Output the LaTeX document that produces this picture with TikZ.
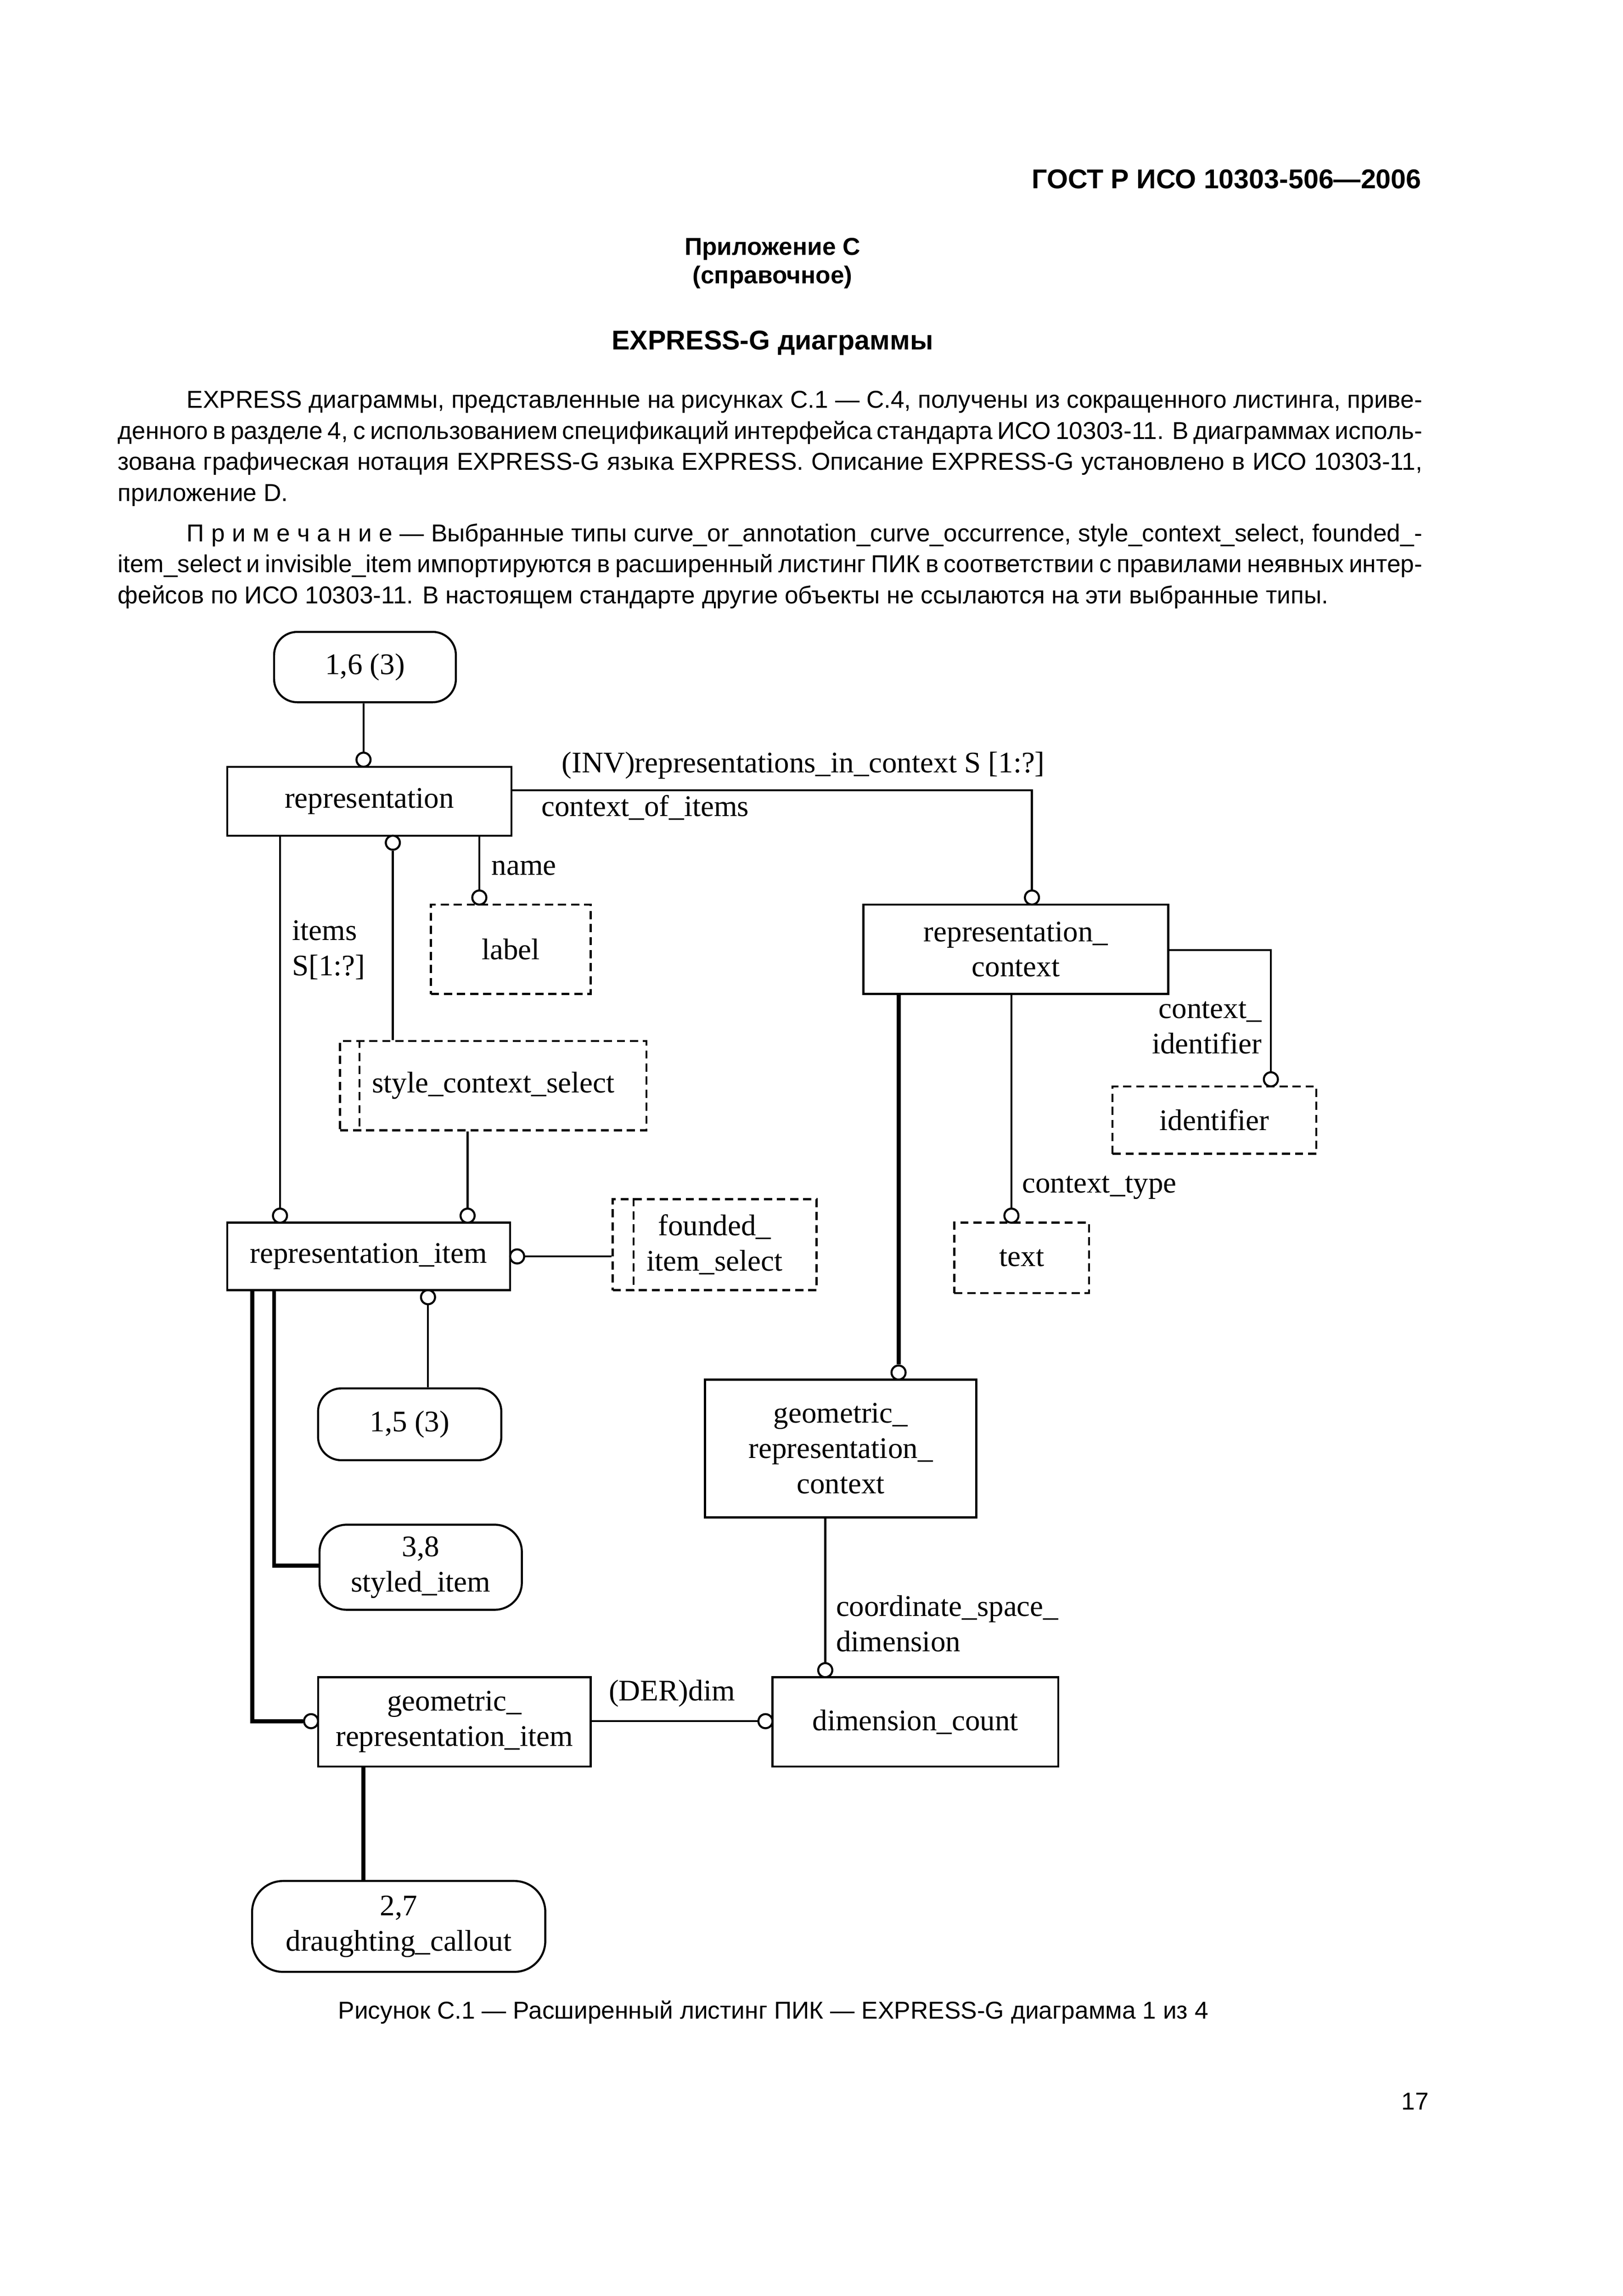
\documentclass[tikz,border=0pt]{standalone}
\usepackage{fontspec}
\setmainfont{Liberation Serif}
\newfontfamily\arial{Liberation Sans}
\newlength\UL
\setlength\UL{0.189702mm}
\newcommand\dgfont{\fontsize{11}{13}\selectfont}
\newcommand\bodyfont{\arial\fontsize{9}{11}\selectfont}
\begin{document}
\begin{tikzpicture}[x=\UL, y=-\UL,
  ent/.style={draw, line width=0.75pt, inner sep=0pt, align=center, font=\dgfont},
  entd/.style={ent, dash pattern=on 3pt off 1.8pt},
  pref/.style={ent, rounded corners=3mm},
  rc/.style={circle, draw, line width=0.75pt, inner sep=0pt, minimum size=9.6*\UL, fill=white},
  ln/.style={line width=0.75pt},
  thk/.style={line width=1.5pt},
  lab/.style={inner sep=0pt, font=\dgfont, align=left},
  body/.style={font=\bodyfont, anchor=base west, inner sep=0pt},
  hd/.style={inner sep=0pt}
]
\fill[white] (0,0) rectangle (1107,1566.1);
\useasboundingbox (0,0) rectangle (1107,1566.1);

% ---------- page text ----------
\node[hd, font=\arial\bfseries\fontsize{10}{12}\selectfont, anchor=base east] (hdr) at (970,128.6) {ГОСТ Р ИСО 10303-506—2006};
\node[hd, font=\arial\bfseries\fontsize{9}{11}\selectfont, anchor=base] (app) at (527,174) {Приложение С};
\node[hd, font=\arial\bfseries\fontsize{9}{11}\selectfont, anchor=base] (spr) at (527,193.5) {(справочное)};
\node[hd, font=\arial\bfseries\fontsize{10}{12}\selectfont, anchor=base] (ttl) at (527,238.6) {EXPRESS-G диаграммы};

\node[body] (t1) at (127,278.3) {\makebox[843\UL][s]{EXPRESS диаграммы, представленные на рисунках С.1 — С.4, получены из сокращенного листинга, приве-}};
\node[body] (t2) at (80,299.5) {\makebox[890\UL][s]{денного в разделе 4, с использованием спецификаций интерфейса стандарта ИСО 10303-11. В диаграммах исполь-}};
\node[body] (t3) at (80,320.7) {\makebox[890\UL][s]{зована графическая нотация EXPRESS-G языка EXPRESS. Описание EXPRESS-G установлено в ИСО 10303-11,}};
\node[body] (t4) at (80,341.9) {приложение D.};

\node[body] (n1) at (127,369.3) {\makebox[843\UL][s]{П\kern.29em р\kern.29em и\kern.29em м\kern.29em е\kern.29em ч\kern.29em а\kern.29em н\kern.29em и\kern.29em е — Выбранные типы curve\_or\_annotation\_curve\_occurrence, style\_context\_select, founded\_-}};
\node[body] (n2) at (80,390.5) {\makebox[890\UL][s]{item\_select и invisible\_item импортируются в расширенный листинг ПИК в соответствии с правилами неявных интер-}};
\node[body] (n3) at (80,411.7) {фейсов по ИСО 10303-11. В настоящем стандарте другие объекты не ссылаются на эти выбранные типы.};

\node[body, anchor=base] (cap) at (527.5,1377) {Рисунок С.1 — Расширенный листинг ПИК — EXPRESS-G диаграмма 1 из 4};
\node[body, anchor=base east] (pg) at (975,1439) {17};

% ---------- diagram boxes ----------
\node[pref, minimum width=124*\UL, minimum height=48*\UL] (p16) at (249,455) {1,6 (3)};
\node[ent, minimum width=194*\UL, minimum height=47*\UL] (rep) at (252,546.5) {representation};
\node[ent, minimum width=208*\UL, minimum height=61*\UL] (repctx) at (693,647.5) {representation\_\\context};
\node[entd, minimum width=109*\UL, minimum height=61*\UL] (lbl) at (348.5,647.5) {label};
\node[entd, minimum width=209*\UL, minimum height=61*\UL] (scs) at (336.5,740.5) {style\_context\_select};
\node[ent, minimum width=193*\UL, minimum height=46*\UL] (ri) at (251.5,857) {representation\_item};
\node[entd, minimum width=139*\UL, minimum height=62*\UL] (fis) at (487.5,849) {founded\_\\item\_select};
\node[entd, minimum width=92*\UL, minimum height=48*\UL] (txt) at (697,858) {text};
\node[entd, minimum width=139*\UL, minimum height=46*\UL] (idf) at (828.5,764) {identifier};
\node[ent, minimum width=185*\UL, minimum height=94*\UL] (grc) at (573.5,988) {geometric\_\\representation\_\\context};
\node[pref, minimum width=125*\UL, minimum height=49*\UL] (p15) at (279.5,971.5) {1,5 (3)};
\node[pref, rounded corners=3.5mm, minimum width=138*\UL, minimum height=58*\UL] (p38) at (287,1069) {3,8\\styled\_item};
\node[ent, minimum width=186*\UL, minimum height=61*\UL] (gri) at (310,1174.5) {geometric\_\\representation\_item};
\node[ent, minimum width=195*\UL, minimum height=61*\UL] (dc) at (624.5,1174.5) {dimension\_count};
\node[pref, rounded corners=4mm, minimum width=200*\UL, minimum height=62*\UL] (p27) at (272,1314) {2,7\\draughting\_callout};

% select-type inner lines
\draw[ln, dash pattern=on 3pt off 1.8pt] ([xshift=14*\UL]scs.north west) -- ([xshift=14*\UL]scs.south west);
\draw[ln, dash pattern=on 3pt off 1.8pt] ([xshift=15*\UL]fis.north west) -- ([xshift=15*\UL]fis.south west);

% ---------- relationship circles ----------
\node[rc] (c1) at (248,518.2) {};
\node[rc] (c2) at (704,612.2) {};
\node[rc] (c3) at (268,574.8) {};
\node[rc] (c4) at (327,612.2) {};
\node[rc] (c5) at (191,829.2) {};
\node[rc] (c6) at (319,829.2) {};
\node[rc] (c7) at (352.8,857) {};
\node[rc] (c8) at (292,884.8) {};
\node[rc] (c9) at (212.2,1174) {};
\node[rc] (c10) at (522.2,1174) {};
\node[rc] (c11) at (563,1139.2) {};
\node[rc] (c12) at (613,936.2) {};
\node[rc] (c13) at (690,829.2) {};
\node[rc] (c14) at (867,736.2) {};

% ---------- connectors ----------
\coordinate (k1) at (704,539);
\coordinate (k2) at (172,1174);
\coordinate (k3) at (187,1068);
\coordinate (k4) at (248,1240);
\coordinate (k5) at (867,648);

\draw[ln] (p16.south -| c1) -- (c1);
\draw[ln] (rep.east |- k1) -- (k1) -- (c2);
\draw[ln] (rep.south -| c5) -- (c5);
\draw[ln] (c3) -- (c3 |- scs.north);
\draw[ln] (rep.south -| c4) -- (c4);
\draw[ln] (scs.south -| c6) -- (c6);
\draw[ln] (c7) -- (fis.west |- c7);
\draw[ln] (c8) -- (c8 |- p15.north);
\draw[thk] (ri.south -| k2) -- (k2) -- (c9);
\draw[thk] (ri.south -| k3) -- (k3) -- (k3 -| p38.west);
\draw[ln] (gri.east |- c10) -- (c10);
\draw[thk] (gri.south -| k4) -- (k4 |- p27.north);
\draw[thk] (repctx.south -| c12) -- (c12);
\draw[ln] (repctx.south -| c13) -- (c13);
\draw[ln] (repctx.east |- k5) -- (k5) -- (c14);
\draw[ln] (grc.south -| c11) -- (c11);

% ---------- labels ----------
\node[lab, anchor=west] (l1) at (383,522) {(INV)representations\_in\_context S [1:?]};
\node[lab, anchor=west] (l2) at (369,551) {context\_of\_items};
\node[lab, anchor=west] (l3) at (335,592) {name};
\node[lab, anchor=west] (l4) at (199,648) {items\\S[1:?]};
\node[lab, anchor=west] (l5) at (697,810) {context\_type};
\node[lab, anchor=east, align=right] (l6) at (861,701) {context\_\\identifier};
\node[lab, anchor=west] (l7) at (570,1107.5) {coordinate\_space\_\\dimension};
\node[lab, anchor=west] (l8) at (415,1155) {(DER)dim};
\end{tikzpicture}
\end{document}
